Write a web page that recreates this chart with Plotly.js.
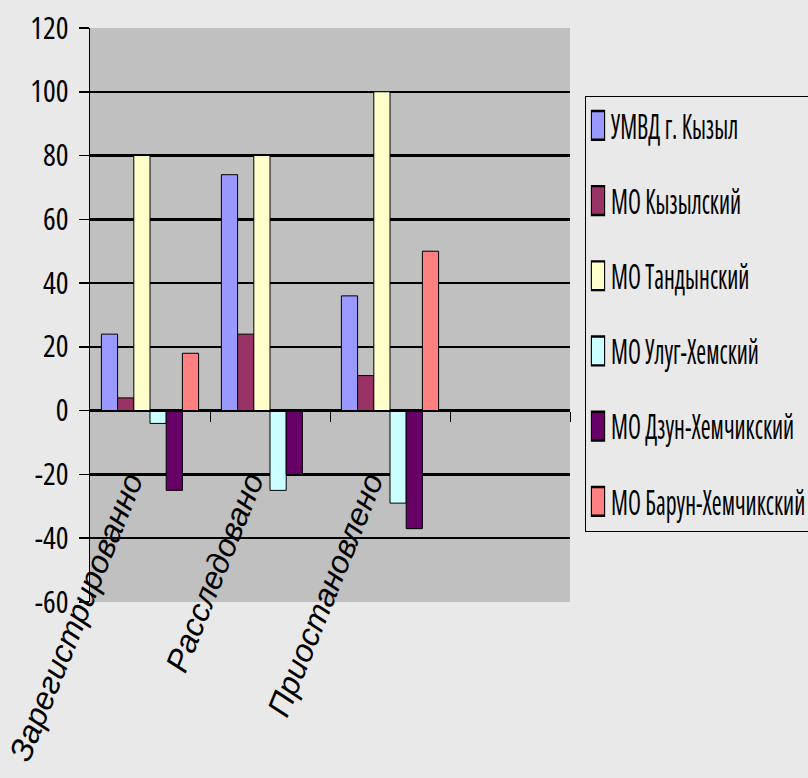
<!DOCTYPE html>
<html>
<head>
<meta charset="utf-8">
<script src="https://cdn.plot.ly/plotly-3.0.1.min.js"></script>
<style>
  html, body { margin: 0; padding: 0; background: #e9e9e9; }
  #chart { width: 808px; height: 778px; }
  #chart svg .ytick text { font-stretch: 75% !important; }
  #chart svg .legendtext {
    font-stretch: 75% !important;
    transform-box: fill-box;
    transform-origin: 0 50%;
    translate: -15px 0;
    scale: 0.7 1;
  }
  #chart svg .legendpoints path {
    transform-box: fill-box;
    transform-origin: 50% 50%;
    translate: -10px 0;
    scale: 1.1 2.4;
  }
</style>
</head>
<body>
<div id="chart"></div>
<script>
// ---- data ----
const categories = ["Зарегистрированно", "Расследовано", "Приостановлено"];
const seriesNames = ["УМВД г. Кызыл", "МО Кызылский", "МО Тандынский", "МО Улуг-Хемский", "МО Дзун-Хемчикский", "МО Барун-Хемчикский"];
const umvdKyzyl      = [24, 74, 36];
const moKyzylsky     = [4, 24, 11];
const moTandynsky    = [80, 80, 100];
const moUlugKhemsky  = [-4, -25, -29];
const moDzunKhemchik = [-25, -20, -37];
const moBarunKhemchik= [18, 0, 50];
const yTicks = [-60, -40, -20, 0, 20, 40, 60, 80, 100, 120];

const seriesValues = [umvdKyzyl, moKyzylsky, moTandynsky, moUlugKhemsky, moDzunKhemchik, moBarunKhemchik];
const colors = ["#9999ff", "#993366", "#ffffcc", "#ccffff", "#660066", "#ff8080"];

const xIdx = categories.map((c, i) => i);

const traces = seriesNames.map((name, k) => ({
  type: "bar",
  name: name,
  legendgroup: "g" + k,
  x: xIdx,
  y: seriesValues[k],
  marker: { color: colors[k], line: { color: "#000000", width: 1 } },
  hoverinfo: "name+y"
}));

const narrow = "Open Sans, Roboto, Noto Sans, sans-serif";

const annotations = categories.map((c, i) => ({
  x: i, y: 0, xref: "x", yref: "y",
  text: c,
  showarrow: false,
  textangle: -68,
  xanchor: "right", yanchor: "top",
  xshift: 3, yshift: -55,
  font: { family: "Liberation Sans, Arial, sans-serif", size: 32, color: "#000000", style: "italic" }
}));

const layout = {
  width: 808, height: 778,
  paper_bgcolor: "#e9e9e9",
  plot_bgcolor: "#c0c0c0",
  margin: { l: 90, r: 238, t: 28, b: 176, autoexpand: false },
  barmode: "group",
  bargap: 0.19,
  bargroupgap: 0,
  showlegend: true,
  legend: {
    x: 1.03125, y: 0.882, xanchor: "left", yanchor: "top",
    bgcolor: "#e9e9e9",
    bordercolor: "#000000", borderwidth: 1,
    font: { family: narrow, size: 34, color: "#000000" },
    tracegroupgap: 28,
    traceorder: "grouped",
    itemwidth: 30
  },
  xaxis: {
    type: "linear",
    range: [-0.5, 3.5],
    anchor: "free", position: 1/3,
    showline: true, linecolor: "#000000", linewidth: 2,
    ticks: "outside", tickvals: [0.5, 1.5, 2.5, 3.5], ticklen: 10, tickcolor: "#000000", tickwidth: 1,
    showticklabels: false,
    showgrid: false, zeroline: false,
    fixedrange: true
  },
  yaxis: {
    range: [-60, 120],
    tickmode: "array", tickvals: yTicks, ticktext: yTicks.map(String),
    ticks: "outside", ticklen: 10, tickcolor: "#000000", tickwidth: 1.5,
    showline: true, linecolor: "#000000", linewidth: 1.5,
    showgrid: true, gridcolor: "#000000", gridwidth: 2.5,
    zeroline: false,
    tickfont: { family: narrow, size: 30, color: "#000000" },
    ticklabelstandoff: 4,
    fixedrange: true
  },
  annotations: annotations
};

Plotly.newPlot("chart", traces, layout, { displayModeBar: false, staticPlot: true });
</script>
</body>
</html>
